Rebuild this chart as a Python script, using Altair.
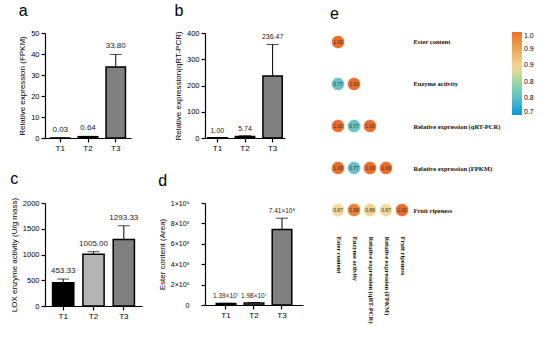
import altair as alt
import pandas as pd

# ---------------- data ----------------
groups = ["T1", "T2", "T3"]

fpkm_mean = [0.03, 0.64, 33.80]
fpkm_sd = [0.01, 0.1, 6.0]
fpkm_lbl = ["0.03", "0.64", "33.80"]

qpcr_mean = [1.00, 5.74, 236.47]
qpcr_sd = [0.0, 3.0, 120.0]
qpcr_lbl = ["1.00", "5.74", "236.47"]

lox_mean = [453.33, 1005.00, 1293.33]
lox_sd = [70.0, 50.0, 265.0]
lox_lbl = ["453.33", "1005.00", "1293.33"]

ester_mean = [1.39e7, 1.98e7, 7.41e8]
ester_sd = [2.0e6, 3.0e6, 1.1e8]
ester_lbl = ["1.39×10⁷", "1.98×10⁷", "7.41×10⁸"]

gray_colors = ["#808080", "#808080", "#808080"]
tri_colors = ["#000000", "#b4b4b4", "#808080"]

corr_names = ["Ester content", "Enzyme activity", "Relative expression (qRT-PCR)",
              "Relative expression (FPKM)", "Fruit ripeness"]
corr_rows = [
    [1.00],
    [0.77, 1.00],
    [1.00, 0.77, 1.00],
    [1.00, 0.77, 1.00, 1.00],
    [0.87, 0.98, 0.88, 0.87, 1.00],
]

FONT = "Liberation Sans"
SERIF = "Liberation Serif"


def bar_panel(means, sds, labels, colors, letter, ytitle, ydomain, yticks,
              width, height, po, pi, lbl_size, label_expr=None, tick_lbl_size=7.5,
              label_pad=2):
    df = pd.DataFrame({
        "g": groups,
        "m": means,
        "top": [m + s for m, s in zip(means, sds)],
        "lbl": labels,
        "c": colors,
    })
    x = alt.X("g:N", sort=groups, title=None,
              scale=alt.Scale(paddingInner=pi, paddingOuter=po),
              axis=alt.Axis(labelAngle=0, labelFontSize=8, labelPadding=2))
    axis_kw = dict(values=yticks, labelFontSize=tick_lbl_size, titleFontSize=8,
                   titlePadding=4, labelPadding=label_pad, format="d")
    if label_expr:
        axis_kw["labelExpr"] = label_expr
    yscale = alt.Scale(domain=ydomain, nice=False)

    def yenc(field):
        return alt.Y(field, type="quantitative", scale=yscale, title=ytitle,
                     axis=alt.Axis(**axis_kw))

    base = alt.Chart(df)
    bars = base.mark_bar(stroke="black", strokeWidth=1.5).encode(
        x=x, y=yenc("m"), color=alt.Color("c:N", scale=None))
    err = base.mark_rule(color="black", strokeWidth=1).encode(
        x=x, y=yenc("m"), y2="top:Q")
    cap = base.mark_tick(color="black", thickness=1, size=12).encode(
        x=x, y=yenc("top"))
    txt = base.mark_text(dy=-4, baseline="bottom", fontSize=lbl_size, font=FONT,
                         color="#222").encode(x=x, y=yenc("top"), text="lbl:N")
    return alt.layer(bars, err, cap, txt).properties(
        width=width, height=height,
        title=alt.TitleParams(letter, anchor="start", frame="bounds", fontSize=16,
                              fontWeight="normal", font=FONT, offset=10, color="black"))


pa = bar_panel(fpkm_mean, fpkm_sd, fpkm_lbl, gray_colors, "a",
               "Relative expression (FPKM)", [0, 50], [0, 10, 20, 30, 40, 50],
               86, 105, 0.2, 0.3, 8)
pb = bar_panel(qpcr_mean, qpcr_sd, qpcr_lbl, gray_colors, "b",
               "Relative expression(qRT-PCR)", [0, 400], [0, 100, 200, 300, 400],
               80, 105, 0.1, 0.3, 7)
pc = bar_panel(lox_mean, lox_sd, lox_lbl, tri_colors, "c",
               "LOX enzyme activity (U/g mass)", [0, 2000], [0, 500, 1000, 1500, 2000],
               97, 103, 0.25, 0.3, 8)
pd_ = bar_panel(ester_mean, ester_sd, ester_lbl, tri_colors, "d",
                "Ester content (Area)", [0, 1e9], [0, 2e8, 4e8, 6e8, 8e8, 1e9],
                98, 102, 0.4, 0.3, 6.5,
                label_expr="datum.value == 0 ? '0' : (datum.value >= 1e9 ? '1×10⁹' : format(datum.value / 1e8, 'd') + '×10⁸')",
                tick_lbl_size=7, label_pad=12)

# ---------------- correlation panel ----------------
recs = []
for i, row in enumerate(corr_rows):
    for j, v in enumerate(row):
        recs.append({"row": corr_names[i], "col": corr_names[j], "v": v, "lbl": f"{v:.2f}"})
cdf = pd.DataFrame(recs)

cx = alt.X("col:N", sort=corr_names, title=None,
           scale=alt.Scale(type="point", padding=0.5),
           axis=alt.Axis(orient="bottom", labelAngle=90, domain=False, ticks=False,
                         labelFont=SERIF, labelFontWeight="bold", labelFontSize=6.5,
                         labelAlign="left", labelBaseline="middle", labelPadding=17,
                         labelColor="#111"))
cy = alt.Y("row:N", sort=corr_names, title=None,
           scale=alt.Scale(type="point", padding=0.214),
           axis=alt.Axis(orient="right", domain=False, ticks=False,
                         labelFont=SERIF, labelFontWeight="bold", labelFontSize=6.5,
                         labelAlign="left", labelPadding=3, labelColor="#111",
                         labelLimit=200))

cscale = alt.Scale(domain=[0.7, 0.77, 0.87, 1.0],
                   range=["#1097d8", "#6ac2c6", "#f3da9c", "#ea6e2a"])
cbase = alt.Chart(cdf)
circles = cbase.mark_circle(size=170, opacity=1, stroke="white", strokeWidth=0.5).encode(
    x=cx, y=cy,
    color=alt.Color("v:Q", scale=cscale,
                    legend=alt.Legend(orient="none", legendX=182, legendY=-1,
                                      direction="vertical", gradientLength=83,
                                      gradientThickness=10, title=None,
                                      values=[0.7, 0.76, 0.82, 0.88, 0.94, 1.0],
                                      format=".1f", labelFontSize=7, labelFont=FONT,
                                      labelColor="black", gradientStrokeWidth=0)))
ctext = cbase.mark_text(fontSize=5, font=FONT, color="#333").encode(
    x=cx, y=cy, text="lbl:N")
pe = alt.layer(circles, ctext).properties(
    width=80, height=186,
    title=alt.TitleParams("e", anchor="start", frame="group", fontSize=16,
                          fontWeight="normal", font=FONT, offset=10, color="black"))

col1 = alt.vconcat(pa, pc, spacing=19)
col2 = alt.vconcat(pb, pd_, spacing=21)
bars_block = alt.hconcat(col1, col2, spacing=16)
chart = alt.hconcat(bars_block, pe, spacing=27).resolve_scale(
    color="independent"
).resolve_legend(
    color="independent"
).properties(
    padding={"left": 10, "top": 3, "right": 5, "bottom": 5},
    background="white"
).configure_view(stroke=None).configure_axis(
    domainColor="black", tickColor="black", labelColor="black", titleColor="black",
    labelFont=FONT, titleFont=FONT, titleFontWeight="normal", grid=False,
    domainWidth=1.2, tickWidth=1.2, tickSize=4
)

chart.save("out.html", embed_options={"renderer": "svg", "actions": False})
